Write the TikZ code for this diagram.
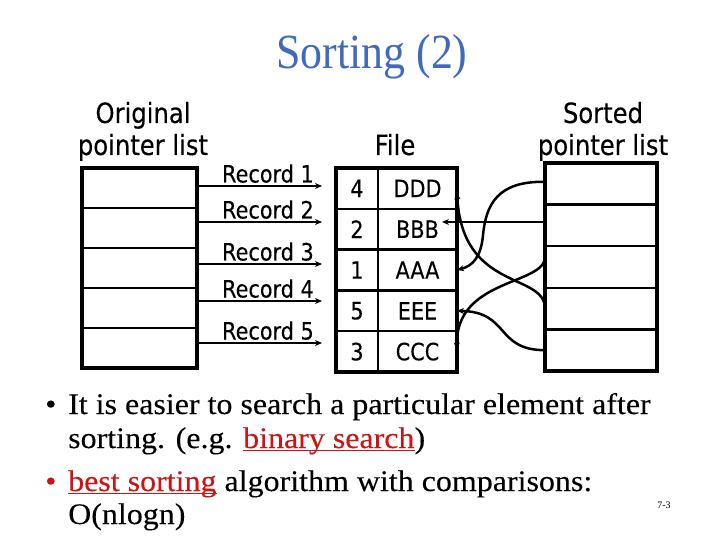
\documentclass[tikz,border=0pt]{standalone}
\usepackage{fontspec}
\setmainfont{Liberation Serif}
\newfontfamily\bodyf[FakeStretch=1.07,FakeBold=0.2]{Liberation Serif}
\newfontfamily\dvs[FakeStretch=0.87,FakeBold=0.2]{DejaVu Sans}
\newcommand\myul[1]{\setbox0\hbox{#1}\rlap{\rule[-3.4pt]{\wd0}{1.6pt}}\box0}
\usetikzlibrary{arrows.meta}
\definecolor{titleblue}{RGB}{65,105,190}
\definecolor{linkred}{RGB}{204,20,20}
\begin{document}
\begin{tikzpicture}[x=1bp,y=-1bp,
  cellbox/.style={draw,line width=2.2bp,inner sep=0,outer sep=0,anchor=north west},
  outerbox/.style={line width=3.4bp},
  ptr/.style={line width=2.5bp,-{Stealth[length=7bp,width=6bp]}},
  lbl/.style={font=\dvs\fontsize{24}{24}\selectfont,inner sep=0},
  hdr/.style={font=\dvs\fontsize{28}{32}\selectfont,inner sep=0,anchor=base},
  body/.style={font=\bodyf\fontsize{30}{34}\selectfont,inner sep=0,anchor=base west}
]
\useasboundingbox (0,0) rectangle (720,540);
% title
\node[font=\fontsize{44}{44}\selectfont,text=titleblue,anchor=base,inner sep=0] (title) at (372,69) {\scalebox{1}[1.12]{Sorting (2)}};
% headers
\node[hdr] (h1a) at (143,123) {Original};
\node[hdr] (h1b) at (143,155) {pointer list};
\node[hdr] (h2) at (395,155) {File};
\node[hdr] (h3a) at (603,123) {Sorted};
\node[hdr] (h3b) at (603,155) {pointer list};
% original pointer list
\foreach \i in {1,...,5} {
  \node[cellbox,minimum width=115bp,minimum height=40bp] (o\i) at (82,{168+40*(\i-1)}) {};
}
\draw[outerbox] (o1.north west) rectangle (o5.south east);
% file
\foreach \i/\n/\v in {1/4/DDD,2/2/BBB,3/1/AAA,4/5/EEE,5/3/CCC} {
  \node[cellbox,lbl,minimum width=42bp,minimum height=40.8bp] (fn\i) at (336,{168+40.8*(\i-1)}) {\n};
  \node[cellbox,lbl,minimum width=79bp,minimum height=40.8bp] (fv\i) at (378,{168+40.8*(\i-1)}) {\v};
}
\draw[outerbox] (fn1.north west) rectangle (fv5.south east);
% sorted pointer list
\foreach \i in {1,...,5} {
  \node[cellbox,minimum width=112bp,minimum height=41.6bp] (s\i) at (545,{163+41.6*(\i-1)}) {};
}
\draw[outerbox] (s1.north west) rectangle (s5.south east);
% record arrows
\foreach \i/\y in {1/186,2/222,3/264,4/301,5/343} {
  \coordinate (r\i) at (322,\y);
  \draw[ptr] (o\i.east |- r\i) -- (r\i);
  \node[lbl,anchor=base east] (rl\i) at (314,{\y-3.5}) {Record \i};
}
% sorted pointers
\coordinate (bbbtip) at (442,222);
\coordinate (m1) at (483,235);
\draw[ptr] ([yshift=2bp]s1.west) .. controls (497,181) and (486,205) .. (m1) .. controls (481,258) and (472,266) .. (fv3.east);
\draw[ptr] (s2.west |- bbbtip) -- (bbbtip);
\draw[ptr] ([yshift=8bp]s3.west) .. controls (540,285) and (455,280) .. ([yshift=2bp]fv5.east);
\draw[ptr] (s4.west) .. controls (545,272) and (462,292) .. ([yshift=-4bp]fv1.east);
\draw[ptr] (s5.west) .. controls (495,350) and (510,312) .. (fv4.east);
% body text
\node[body] (d1) at (45,414) {•};
\node[body] (t1) at (68,414) {It is easier to search a particular element after};
\node[body] (t2) at (68,448) {sorting. (e.g. \textcolor{linkred}{\myul{binary search}})};
\node[body,text=linkred] (d2) at (45,491) {•};
\node[body] (t3) at (68,491) {\textcolor{linkred}{\myul{best sorting}} algorithm with comparisons:};
\node[body] (t4) at (68,524) {O(nlogn)};
\node[font=\fontsize{10}{10}\selectfont,anchor=base,inner sep=0] (pg) at (664,508) {7-3};
\end{tikzpicture}
\end{document}
